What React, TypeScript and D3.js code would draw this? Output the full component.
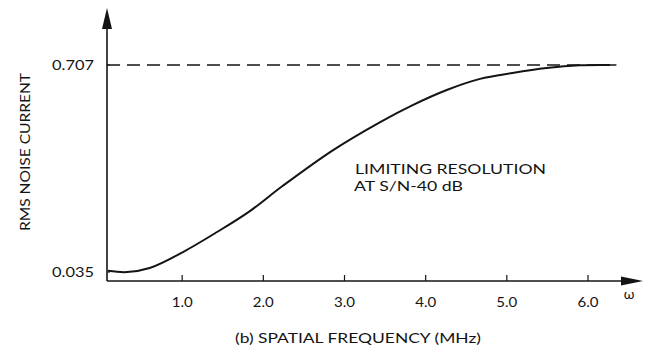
import React from "react";
import * as d3 from "d3";

const xTicks = [1, 2, 3, 4, 5, 6];
const xTickLabels = ["1.0", "2.0", "3.0", "4.0", "5.0", "6.0"];
const yTicks = [0.035, 0.707];
const yTickLabels = ["0.035", "0.707"];
const curveFreq = [0.086, 0.32, 0.6, 1.01, 1.43, 1.83, 2.24, 2.86, 3.44, 3.84, 4.26, 4.67, 5.07, 5.49, 5.9, 6.27];
const curveNoise = [0.039, 0.035, 0.048, 0.1, 0.165, 0.232, 0.315, 0.431, 0.522, 0.577, 0.626, 0.662, 0.681, 0.697, 0.706, 0.707];
const limitLevel = 0.707;
const yLabel = "RMS NOISE CURRENT";
const xLabel = "(b)  SPATIAL FREQUENCY (MHz)";
const annotation = ["LIMITING RESOLUTION", "AT S/N-40 dB"];

const W = 645;
const H = 351;
const FONT = "Lato, 'Open Sans', sans-serif";
const INK = "#141414";

export default function App() {
  const x = d3.scaleLinear().domain([0, 6]).range([101, 588]);
  const y = d3.scaleLinear().domain([0.006, 0.707]).range([281, 65]);
  const x0 = x.invert(107);
  const xEnd = x.invert(643);
  const yBase = y(0.006);
  const yTop = y.invert(8);

  const pts: [number, number][] = curveFreq.map((f, i) => [f, curveNoise[i]]);
  const line = d3
    .line<[number, number]>()
    .x((d) => x(d[0]))
    .y((d) => y(d[1]))
    .curve(d3.curveCatmullRom.alpha(0.5));

  const ax = x(x0);
  const topY = y(yTop);
  const endX = x(xEnd);

  return (
    <svg
      width={W}
      height={H}
      style={{ position: "absolute", left: 0, top: 0, background: "#fff" }}
      fontFamily={FONT}
    >
      <rect width={W} height={H} fill="#fff" />
      {/* y axis */}
      <line x1={ax} x2={ax} y1={yBase} y2={topY + 18} stroke={INK} strokeWidth={1.6} />
      <polygon
        points={`${ax},${topY} ${ax - 5},${topY + 21} ${ax + 5},${topY + 21}`}
        fill={INK}
      />
      {/* x axis */}
      <line x1={ax} x2={endX - 18} y1={yBase} y2={yBase} stroke={INK} strokeWidth={1.6} />
      <polygon
        points={`${endX},${yBase} ${endX - 22},${yBase - 4.5} ${endX - 22},${yBase + 4.5}`}
        fill={INK}
      />
      {xTicks.map((t, i) => (
        <g key={t}>
          <line x1={x(t)} x2={x(t)} y1={yBase} y2={yBase - 6} stroke={INK} strokeWidth={1.2} />
          <text
            x={x(t)}
            y={yBase + 26}
            textAnchor="middle"
            fontSize={14}
            fill={INK}
            textLength={21}
            lengthAdjust="spacingAndGlyphs"
          >
            {xTickLabels[i]}
          </text>
        </g>
      ))}
      <text x={endX - 14} y={yBase + 18} fontSize={14} fill={INK} textAnchor="middle">
        ω
      </text>
      {yTicks.map((t, i) => (
        <g key={t}>
          <line x1={ax} x2={ax + 3} y1={y(t)} y2={y(t)} stroke={INK} strokeWidth={1} />
          <text
            x={ax - 13}
            y={y(t)}
            dy="0.36em"
            textAnchor="end"
            fontSize={14}
            fill={INK}
            textLength={42}
            lengthAdjust="spacingAndGlyphs"
          >
            {yTickLabels[i]}
          </text>
        </g>
      ))}
      {/* dashed limit line */}
      <line
        x1={ax}
        x2={x(6.35)}
        y1={y(limitLevel)}
        y2={y(limitLevel)}
        stroke={INK}
        strokeWidth={1.3}
        strokeDasharray="13,7"
      />
      {/* curve */}
      <path d={line(pts) || ""} fill="none" stroke={INK} strokeWidth={2} />
      {/* annotation */}
      <text
        x={355}
        y={174}
        fontSize={14}
        fill={INK}
        textLength={191}
        lengthAdjust="spacingAndGlyphs"
      >
        {annotation[0]}
      </text>
      <text
        x={354}
        y={191}
        fontSize={14}
        fill={INK}
        textLength={109}
        lengthAdjust="spacingAndGlyphs"
      >
        {annotation[1]}
      </text>
      {/* y label */}
      <text
        transform={`translate(30,152) rotate(-90)`}
        textAnchor="middle"
        fontSize={13}
        fill={INK}
        textLength={158}
        lengthAdjust="spacingAndGlyphs"
      >
        {yLabel}
      </text>
      {/* x label */}
      <text
        x={235}
        y={343}
        fontSize={14}
        fill={INK}
        textLength={246}
        lengthAdjust="spacingAndGlyphs"
      >
        {xLabel}
      </text>
    </svg>
  );
}
